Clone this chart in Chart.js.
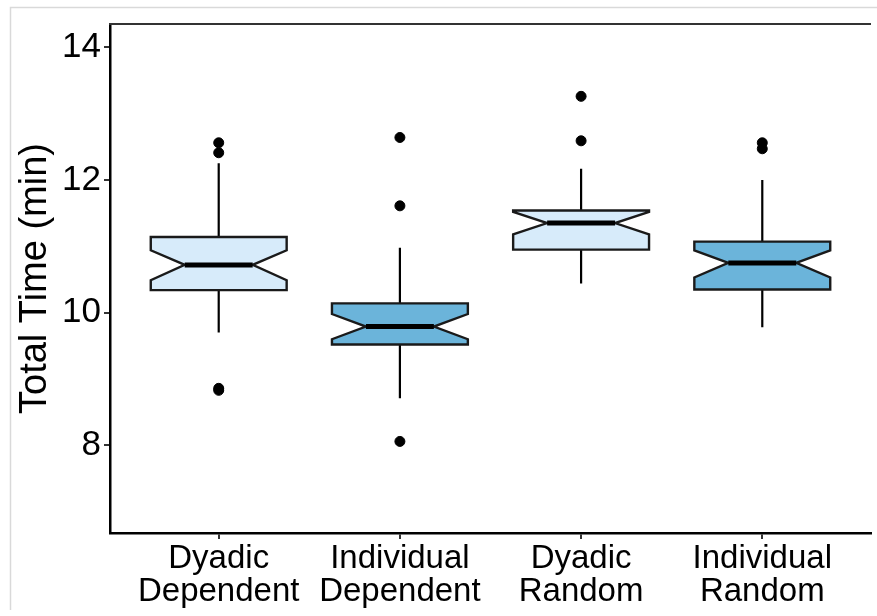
<!DOCTYPE html>
<html>
<head>
<meta charset="utf-8">
<title>Total Time by Condition</title>
<script src="https://cdn.jsdelivr.net/npm/chart.js@4/dist/chart.umd.min.js"></script>
<style>
  html, body { margin: 0; padding: 0; background: #fff; }
  #wrap { width: 877px; height: 616px; }
</style>
</head>
<body>
<div id="wrap"><canvas id="boxChart" width="877" height="616"></canvas></div>
<script>
// values
const categories = [['Dyadic', 'Dependent'], ['Individual', 'Dependent'], ['Dyadic', 'Random'], ['Individual', 'Random']];
const q1 = [10.34, 9.52, 10.95, 10.35];
const median = [10.72, 9.79, 11.35, 10.75];
const q3 = [11.14, 10.14, 11.54, 11.07];
const notchLo = [10.49, 9.60, 11.18, 10.53];
const notchHi = [10.94, 9.98, 11.52, 10.94];
const whiskerLo = [9.70, 8.71, 10.44, 9.78];
const whiskerHi = [12.25, 10.98, 12.17, 12.00];
const outliers = [[12.56, 12.41, 8.86, 8.83], [12.64, 11.61, 8.06], [13.26, 12.59], [12.56, 12.47]];
const yTicks = [8, 10, 12, 14];
const boxColors = ['#d7ebfa', '#6bb4da', '#d7ebfa', '#6bb4da'];

const FONT = "'Liberation Sans', Arial, sans-serif";

// flatten outliers into scatter points
const outlierPoints = [];
outliers.forEach(function (vals, i) {
    vals.forEach(function (v) { outlierPoints.push({ x: i + 1, y: v }); });
});

// draws notched boxes + whiskers using the chart scales
const notchedBoxPlugin = {
    id: 'notchedBox',
    beforeDraw: function (chart) {
        const ctx = chart.ctx;
        ctx.save();
        ctx.strokeStyle = '#d9d9d9';
        ctx.lineWidth = 1.5;
        ctx.beginPath();
        ctx.moveTo(10.5, 610);
        ctx.lineTo(10.5, 7.5);
        ctx.lineTo(chart.width, 7.5);
        ctx.stroke();
        ctx.restore();
    },
    beforeDatasetsDraw: function (chart) {
        const ctx = chart.ctx;
        const xs = chart.scales.x;
        const ys = chart.scales.y;
        const halfW = 0.375;   // box width 0.75
        const notchIn = 0.1875; // notch width 0.5
        ctx.save();
        for (let i = 0; i < categories.length; i++) {
            const c = i + 1;
            const xl = xs.getPixelForValue(c - halfW);
            const xr = xs.getPixelForValue(c + halfW);
            const xli = xs.getPixelForValue(c - halfW + notchIn);
            const xri = xs.getPixelForValue(c + halfW - notchIn);
            const xc = xs.getPixelForValue(c);

            // whiskers
            ctx.strokeStyle = '#000';
            ctx.lineWidth = 2.2;
            ctx.beginPath();
            ctx.moveTo(xc, ys.getPixelForValue(q3[i]));
            ctx.lineTo(xc, ys.getPixelForValue(whiskerHi[i]));
            ctx.moveTo(xc, ys.getPixelForValue(q1[i]));
            ctx.lineTo(xc, ys.getPixelForValue(whiskerLo[i]));
            ctx.stroke();

            // notched box
            ctx.beginPath();
            ctx.moveTo(xl, ys.getPixelForValue(q3[i]));
            ctx.lineTo(xl, ys.getPixelForValue(notchHi[i]));
            ctx.lineTo(xli, ys.getPixelForValue(median[i]));
            ctx.lineTo(xl, ys.getPixelForValue(notchLo[i]));
            ctx.lineTo(xl, ys.getPixelForValue(q1[i]));
            ctx.lineTo(xr, ys.getPixelForValue(q1[i]));
            ctx.lineTo(xr, ys.getPixelForValue(notchLo[i]));
            ctx.lineTo(xri, ys.getPixelForValue(median[i]));
            ctx.lineTo(xr, ys.getPixelForValue(notchHi[i]));
            ctx.lineTo(xr, ys.getPixelForValue(q3[i]));
            ctx.closePath();
            ctx.fillStyle = boxColors[i];
            ctx.fill();
            ctx.lineWidth = 2.4;
            ctx.lineJoin = 'miter';
            ctx.strokeStyle = '#1a1a1a';
            ctx.stroke();

            // median
            ctx.beginPath();
            ctx.lineWidth = 5;
            ctx.strokeStyle = '#000';
            ctx.moveTo(xli, ys.getPixelForValue(median[i]));
            ctx.lineTo(xri, ys.getPixelForValue(median[i]));
            ctx.stroke();
        }
        ctx.restore();
    },
    afterDraw: function (chart) {
        // top frame line (plot is open on the right)
        const a = chart.chartArea;
        const ctx = chart.ctx;
        ctx.save();
        ctx.strokeStyle = '#333';
        ctx.lineWidth = 2;
        ctx.beginPath();
        ctx.moveTo(a.left - 1, a.top);
        ctx.lineTo(a.right, a.top);
        ctx.stroke();
        ctx.restore();
    }
};

const ctx = document.getElementById('boxChart').getContext('2d');
const boxChart = new Chart(ctx, {
    type: 'scatter',
    data: {
        datasets: [{
            label: 'Outliers',
            data: outlierPoints,
            backgroundColor: '#000',
            borderColor: '#000',
            pointRadius: 5,
            pointHoverRadius: 5
        }]
    },
    options: {
        responsive: false,
        animation: false,
        events: [],
        layout: { padding: { left: 10, top: 23, right: 0, bottom: 0 } },
        plugins: {
            legend: { display: false },
            tooltip: { enabled: false }
        },
        scales: {
            x: {
                type: 'linear',
                min: 0.4,
                max: 4.6,
                afterBuildTicks: function (scale) {
                    scale.ticks = categories.map(function (c, i) { return { value: i + 1 }; });
                },
                afterFit: function (scale) { scale.height = 83; },
                grid: { drawOnChartArea: false, drawTicks: true, tickLength: 6, color: '#333', lineWidth: 2 },
                border: { display: true, color: '#000', width: 2.5 },
                ticks: {
                    color: '#000',
                    padding: 3,
                    maxRotation: 0,
                    font: { family: FONT, size: 33, lineHeight: 1.0 },
                    callback: function (v) { return categories[v - 1]; }
                }
            },
            y: {
                type: 'linear',
                min: 6.68,
                max: 14.35,
                afterBuildTicks: function (scale) {
                    scale.ticks = yTicks.map(function (v) { return { value: v }; });
                },
                afterFit: function (scale) { scale.width = 100; },
                grid: { drawOnChartArea: false, drawTicks: true, tickLength: 6, color: '#333', lineWidth: 2 },
                border: { display: true, color: '#000', width: 2.5 },
                ticks: {
                    color: '#000',
                    padding: 3,
                    font: { family: FONT, size: 35 }
                },
                title: {
                    display: true,
                    text: 'Total Time (min)',
                    color: '#000',
                    font: { family: FONT, size: 38, lineHeight: 1.1 },
                    padding: { top: 5, bottom: 0 }
                }
            }
        }
    },
    plugins: [notchedBoxPlugin]
});
</script>
</body>
</html>
